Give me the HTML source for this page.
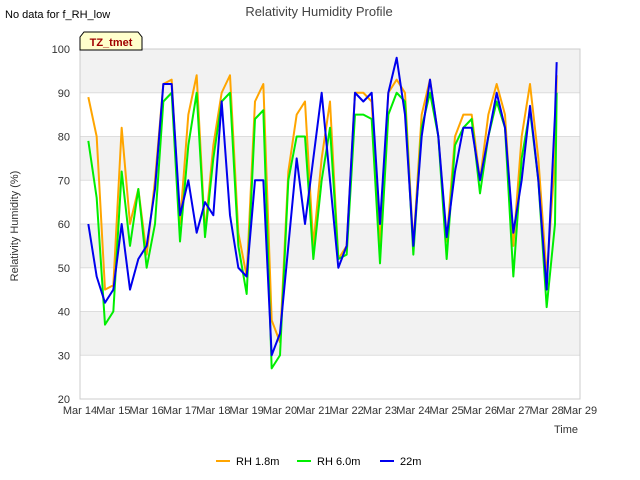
<!DOCTYPE html>
<html><head><meta charset="utf-8"><style>
body{margin:0;background:#fff;font-family:"Liberation Sans",sans-serif;}
svg{display:block}
</style></head><body>
<svg id="c" width="640" height="480" xmlns="http://www.w3.org/2000/svg">
<text x="5" y="18" font-size="11" fill="#000">No data for f_RH_low</text>
<text x="319" y="16" font-size="13" fill="#444" text-anchor="middle">Relativity Humidity Profile</text>
<g id="plot"></g>
<text x="18" y="226" font-size="11" fill="#333" text-anchor="middle" transform="rotate(-90 18 226)">Relativity Humidity (%)</text>
<text x="578" y="433" font-size="11" fill="#333" text-anchor="end">Time</text>
<g>
<path d="M80,50 L80,37 L84,32 L138,32 L142,37 L142,50 Z" fill="#ffffcc" stroke="#000" stroke-width="1"/>
<text x="111" y="46" font-size="11" font-weight="bold" fill="#a00000" text-anchor="middle">TZ_tmet</text>
</g>
<g>
<g><line x1="216" y1="461" x2="230" y2="461" stroke="#ffa500" stroke-width="2"/><text x="236" y="465" font-size="11">RH 1.8m</text></g>
<g><line x1="297" y1="461" x2="311" y2="461" stroke="#00ee00" stroke-width="2"/><text x="317" y="465" font-size="11">RH 6.0m</text></g>
<g><line x1="380" y1="461" x2="394" y2="461" stroke="#0000ee" stroke-width="2"/><text x="400" y="465" font-size="11">22m</text></g>
</g>
</svg>
<script>
const days=[0.25,0.5,0.75,1,1.25,1.5,1.75,2,2.25,2.5,2.75,3,3.25,3.5,3.75,4,4.25,4.5,4.75,5,5.25,5.5,5.75,6,6.25,6.5,6.75,7,7.25,7.5,7.75,8,8.25,8.5,8.75,9,9.25,9.5,9.75,10,10.25,10.5,10.75,11,11.25,11.5,11.75,12,12.25,12.5,12.75,13,13.25,13.5,13.75,14,14.25,14.3];
const rh18=[89,80,45,46,82,60,68,53,70,92,93,60,85,94,58,78,90,94,58,48,88,92,38,33,72,85,88,55,75,88,52,55,90,90,88,55,90,93,90,55,85,93,80,56,80,85,85,70,85,92,85,55,80,92,75,48,75,94];
const rh60=[79,66,37,40,72,55,68,50,60,88,90,56,78,90,57,75,88,90,55,44,84,86,27,30,70,80,80,52,70,82,52,53,85,85,84,51,85,90,88,53,82,90,80,52,78,82,84,67,80,88,82,48,75,86,70,41,60,90];
const rh22=[60,48,42,45,60,45,52,55,68,92,92,62,70,58,65,62,88,62,50,48,70,70,30,35,55,75,60,75,90,70,50,55,90,88,90,60,90,98,85,55,80,93,80,57,72,82,82,70,80,90,82,58,70,87,70,45,85,97];
const xTicks=["Mar 14","Mar 15","Mar 16","Mar 17","Mar 18","Mar 19","Mar 20","Mar 21","Mar 22","Mar 23","Mar 24","Mar 25","Mar 26","Mar 27","Mar 28","Mar 29"];
const yTicks=[20,30,40,50,60,70,80,90,100];
const X0=80,X1=580,Y0=399,Y1=49;
const xs=d=>X0+(X1-X0)*d/15;
const ys=v=>Y0-(Y0-Y1)*(v-20)/80;
const NS="http://www.w3.org/2000/svg";
const g=document.getElementById('plot');
function mk(t,a){const e=document.createElementNS(NS,t);for(const k in a)e.setAttribute(k,a[k]);g.appendChild(e);return e;}
for(let i=0;i<yTicks.length-1;i++){
  const lo=yTicks[i],hi=yTicks[i+1];
  const r=mk('rect',{x:X0,y:ys(hi),width:X1-X0,height:ys(lo)-ys(hi),fill:(i%2==1)?'#f2f2f2':'#ffffff'});
  
  
}
yTicks.forEach(v=>{
  const l=mk('line',{x1:X0,x2:X1,y1:ys(v),y2:ys(v),stroke:'#dddddd','stroke-width':1});
  
  
  const t=mk('text',{x:X0-10,y:ys(v)+4,'font-size':11,fill:'#333','text-anchor':'end'});
  t.textContent=v;
  
  
});
const ax=mk('rect',{x:X0,y:Y1,width:X1-X0,height:Y0-Y1,fill:'none',stroke:'#cccccc'});


xTicks.forEach((s,i)=>{
  const t=mk('text',{x:xs(i),y:414,'font-size':11,fill:'#333','text-anchor':'middle'});
  t.textContent=s;
  
  
});
function line(arr,col,name){
  const p=mk('polyline',{points:arr.map((v,i)=>xs(days[i])+','+ys(v)).join(' '),fill:'none',stroke:col,'stroke-width':2,'stroke-linejoin':'round'});
  
  
}
line(rh18,'#ffa500','series-rh-1.8m');
line(rh60,'#00ee00','series-rh-6.0m');
line(rh22,'#0000ee','series-22m');
</script>
</body></html>
